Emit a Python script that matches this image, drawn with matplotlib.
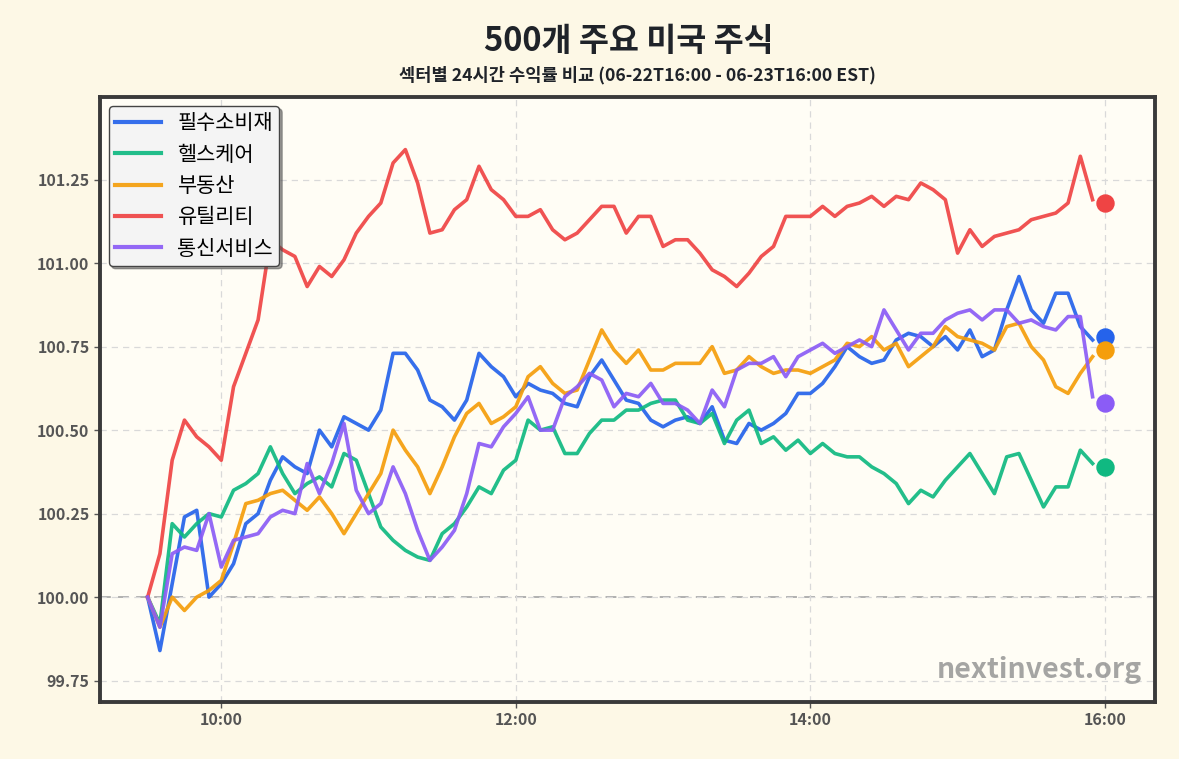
import numpy as np
import pandas as pd
import matplotlib
matplotlib.use("Agg")
import matplotlib.pyplot as plt
import matplotlib.dates as mdates

plt.rcParams['font.family'] = ['Noto Sans CJK KR', 'DejaVu Sans']

# 5-minute marks from 09:30 to 15:55, plus closing marker at 16:00
times = pd.date_range('2023-06-23 09:30', '2023-06-23 15:55', freq='5min')
close_time = pd.Timestamp('2023-06-23 16:00')

sectors = ['필수소비재', '헬스케어', '부동산', '유틸리티', '통신서비스']
colors = ['#2563eb', '#10b981', '#f59e0b', '#ef4444', '#8b5cf6']

staples = [100.00, 99.84, 100.04, 100.24, 100.26, 100.00, 100.04, 100.10, 100.22, 100.25,
           100.35, 100.42, 100.39, 100.37, 100.50, 100.45, 100.54, 100.52, 100.50, 100.56,
           100.73, 100.73, 100.68, 100.59, 100.57, 100.53, 100.59, 100.73, 100.69, 100.66,
           100.60, 100.64, 100.62, 100.61, 100.58, 100.57, 100.66, 100.71, 100.65, 100.59,
           100.58, 100.53, 100.51, 100.53, 100.54, 100.52, 100.57, 100.47, 100.46, 100.52,
           100.50, 100.52, 100.55, 100.61, 100.61, 100.64, 100.69, 100.75, 100.72, 100.70,
           100.71, 100.77, 100.79, 100.78, 100.75, 100.78, 100.74, 100.80, 100.72, 100.74,
           100.86, 100.96, 100.86, 100.82, 100.91, 100.91, 100.81, 100.77]

health = [100.00, 99.92, 100.22, 100.18, 100.22, 100.25, 100.24, 100.32, 100.34, 100.37,
          100.45, 100.37, 100.31, 100.34, 100.36, 100.33, 100.43, 100.41, 100.31, 100.21,
          100.17, 100.14, 100.12, 100.11, 100.19, 100.22, 100.27, 100.33, 100.31, 100.38,
          100.41, 100.53, 100.50, 100.51, 100.43, 100.43, 100.49, 100.53, 100.53, 100.56,
          100.56, 100.58, 100.59, 100.59, 100.53, 100.52, 100.55, 100.46, 100.53, 100.56,
          100.46, 100.48, 100.44, 100.47, 100.43, 100.46, 100.43, 100.42, 100.42, 100.39,
          100.37, 100.34, 100.28, 100.32, 100.30, 100.35, 100.39, 100.43, 100.37, 100.31,
          100.42, 100.43, 100.35, 100.27, 100.33, 100.33, 100.44, 100.40]

realestate = [100.00, 99.91, 100.00, 99.96, 100.00, 100.02, 100.05, 100.16, 100.28, 100.29,
              100.31, 100.32, 100.29, 100.26, 100.30, 100.25, 100.19, 100.25, 100.31, 100.37,
              100.50, 100.44, 100.39, 100.31, 100.39, 100.48, 100.55, 100.58, 100.52, 100.54,
              100.57, 100.66, 100.69, 100.64, 100.61, 100.62, 100.71, 100.80, 100.74, 100.70,
              100.74, 100.68, 100.68, 100.70, 100.70, 100.70, 100.75, 100.67, 100.68, 100.72,
              100.69, 100.67, 100.68, 100.68, 100.67, 100.69, 100.71, 100.76, 100.75, 100.78,
              100.74, 100.76, 100.69, 100.72, 100.75, 100.81, 100.78, 100.77, 100.76, 100.74,
              100.81, 100.82, 100.75, 100.71, 100.63, 100.61, 100.67, 100.72]

utilities = [100.00, 100.13, 100.41, 100.53, 100.48, 100.45, 100.41, 100.63, 100.73, 100.83,
             101.07, 101.04, 101.02, 100.93, 100.99, 100.96, 101.01, 101.09, 101.14, 101.18,
             101.30, 101.34, 101.24, 101.09, 101.10, 101.16, 101.19, 101.29, 101.22, 101.19,
             101.14, 101.14, 101.16, 101.10, 101.07, 101.09, 101.13, 101.17, 101.17, 101.09,
             101.14, 101.14, 101.05, 101.07, 101.07, 101.03, 100.98, 100.96, 100.93, 100.97,
             101.02, 101.05, 101.14, 101.14, 101.14, 101.17, 101.14, 101.17, 101.18, 101.20,
             101.17, 101.20, 101.19, 101.24, 101.22, 101.19, 101.03, 101.10, 101.05, 101.08,
             101.09, 101.10, 101.13, 101.14, 101.15, 101.18, 101.32, 101.19]

telecom = [100.00, 99.91, 100.13, 100.15, 100.14, 100.25, 100.09, 100.17, 100.18, 100.19,
           100.24, 100.26, 100.25, 100.40, 100.31, 100.40, 100.52, 100.32, 100.25, 100.28,
           100.39, 100.31, 100.20, 100.11, 100.15, 100.20, 100.31, 100.46, 100.45, 100.51,
           100.55, 100.60, 100.50, 100.50, 100.60, 100.63, 100.67, 100.65, 100.57, 100.61,
           100.60, 100.64, 100.58, 100.58, 100.56, 100.52, 100.62, 100.57, 100.68, 100.70,
           100.70, 100.72, 100.66, 100.72, 100.74, 100.76, 100.73, 100.75, 100.77, 100.75,
           100.86, 100.80, 100.74, 100.79, 100.79, 100.83, 100.85, 100.86, 100.83, 100.86,
           100.86, 100.82, 100.83, 100.81, 100.80, 100.84, 100.84, 100.60]

close_values = [100.78, 100.39, 100.74, 101.18, 100.58]

series = [staples, health, realestate, utilities, telecom]

fig = plt.figure(figsize=(11.79, 7.59), dpi=100, facecolor='#fdf8e6')
ax = fig.add_axes([0.0848, 0.0751, 0.8948, 0.7969])
ax.set_facecolor('#fffdf5')

ax.axhline(100, color='#aaaaaa', lw=1.3, ls=(0, (6, 4)), zorder=1)

for name, vals, c, cv in zip(sectors, series, colors, close_values):
    ax.plot(times, vals, color=c, lw=2.6, alpha=0.92, label=name, zorder=3)
    ax.scatter([close_time], [cv], s=150, color=c, zorder=4)

ax.set_xlim(pd.Timestamp('2023-06-23 09:10:35'), pd.Timestamp('2023-06-23 16:20:24'))
ax.set_ylim(99.686, 101.497)
ax.set_yticks([99.75, 100.0, 100.25, 100.5, 100.75, 101.0, 101.25])
ax.yaxis.set_major_formatter(plt.FormatStrFormatter('%.2f'))
ax.xaxis.set_major_locator(mdates.HourLocator(byhour=[10, 12, 14, 16]))
ax.xaxis.set_major_formatter(mdates.DateFormatter('%H:%M'))

ax.grid(True, color='#d9d9d9', ls=(0, (5, 4)), lw=0.9, zorder=0)
ax.tick_params(axis='both', labelsize=11.5, colors='#555555', length=4, width=1)
for lbl in ax.get_xticklabels() + ax.get_yticklabels():
    lbl.set_fontweight('bold')
for sp in ax.spines.values():
    sp.set_color('#3a3a3a')
    sp.set_linewidth(2.8)

leg = ax.legend(loc='upper left', fontsize=15, frameon=True, shadow=True,
                fancybox=True, borderpad=0.3, labelspacing=0.45, handlelength=2.2,
                handletextpad=0.8, borderaxespad=0.42)
leg.get_frame().set_facecolor('#f4f4f4')
leg.get_frame().set_edgecolor('#444444')
leg.get_frame().set_alpha(1)
for h in leg.get_lines():
    h.set_linewidth(3)

ax.text(0.988, 0.03, 'nextinvest.org', transform=ax.transAxes, ha='right', va='bottom',
        fontsize=20.5, fontweight='bold', color='#8f8f8f', alpha=0.8, zorder=5)

fig.text(0.533, 0.945, '500개 주요 미국 주식', ha='center', va='center',
         fontsize=23.5, fontweight='bold', color='#1f2329')
fig.text(0.541, 0.901, '섹터별 24시간 수익률 비교 (06-22T16:00 - 06-23T16:00 EST)',
         ha='center', va='center', fontsize=12.7, fontweight='bold', color='#1f2329')

fig.savefig('out.png', dpi=100, facecolor=fig.get_facecolor())
